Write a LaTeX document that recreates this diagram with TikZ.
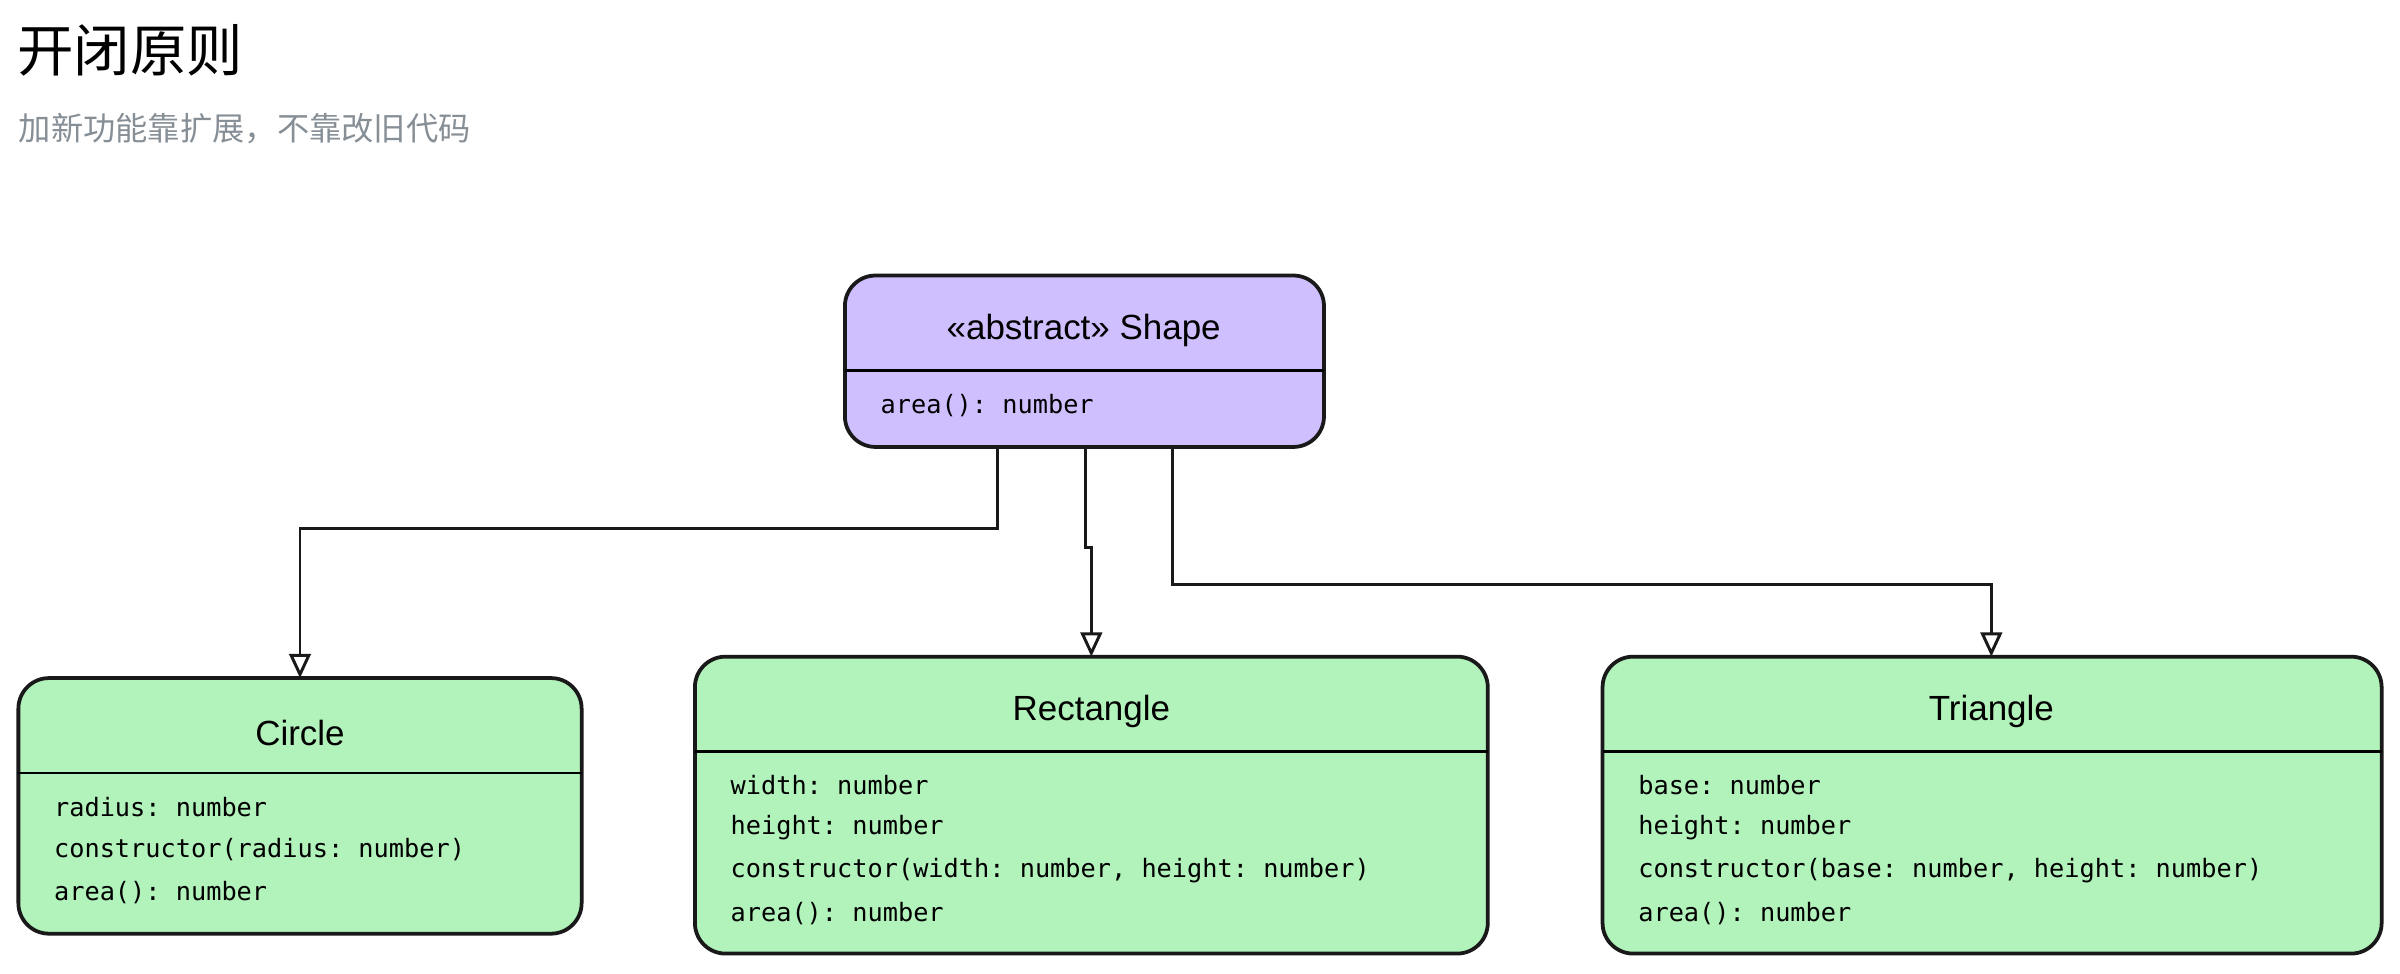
\documentclass[tikz,border=0pt]{standalone}
\usepackage{fontspec}
\setmainfont{Liberation Sans}
\setmonofont{DejaVu Sans Mono}
\newfontfamily\cjk{Noto Sans CJK SC}
\usetikzlibrary{arrows.meta,positioning}
\definecolor{purp}{HTML}{D0BFFF}
\definecolor{grn}{HTML}{B2F2BB}
\definecolor{sub}{HTML}{868E96}
\begin{document}
\begin{tikzpicture}[x=0.02cm,y=-0.02cm,
  box/.style={draw=black!90,line width=1.4pt,rounded corners=0.4cm,inner sep=0pt},
  ttl/.style={font=\fontsize{13}{15}\selectfont,anchor=center},
  mem/.style={font=\ttfamily\fontsize{9.4}{11}\selectfont,anchor=west,inner sep=0pt},
  conn/.style={line width=1.1pt,draw=black!90},
  arr/.style={conn,-{Triangle[open,width=8pt,length=9pt,line width=1.1pt]}}]
\useasboundingbox (0,0) rectangle (1568,636);
\node[anchor=west,font=\cjk\fontsize{21}{24}\selectfont,inner sep=0pt] (t) at (11,33) {开闭原则};
\node[anchor=west,font=\cjk\fontsize{12}{14}\selectfont,text=sub,inner sep=0pt] (s) at (12,84) {加新功能靠扩展，不靠改旧代码};
% Shape
\path[box,fill=purp] (552,180) rectangle (865,292);
\coordinate (shA) at (652,292); \coordinate (shB) at (709,292); \coordinate (shC) at (766,292);
\draw[line width=1pt] (552,242) -- (865,242);
\node[ttl] (shT) at (708,216) {«abstract» Shape};
\node[mem] (shM) at (575,265) {area(): number};
% Circle
\path[box,fill=grn] (12,443) rectangle (380,610);
\coordinate (ciT) at (196,443);
\draw[line width=1pt] (12,505) -- (380,505);
\node[ttl] (ciN) at (196,479) {Circle};
\node[mem] (c1) at (35,527) {radius: number};
\node[mem] (c2) at (35,555) {constructor(radius: number)};
\node[mem] (c3) at (35,583) {area(): number};
% Rectangle
\path[box,fill=grn] (454,429) rectangle (972,623);
\coordinate (reT) at (713,429);
\draw[line width=1pt] (454,491) -- (972,491);
\node[ttl] (reN) at (713,465) {Rectangle};
\node[mem] (r1) at (477,513) {width: number};
\node[mem] (r2) at (477,541) {height: number};
\node[mem] (r3) at (477,569) {constructor(width: number, height: number)};
\node[mem] (r4) at (477,597) {area(): number};
% Triangle
\path[box,fill=grn] (1047,429) rectangle (1556,623);
\coordinate (trT) at (1301,429);
\draw[line width=1pt] (1047,491) -- (1556,491);
\node[ttl] (trN) at (1301,465) {Triangle};
\node[mem] (t1) at (1070,513) {base: number};
\node[mem] (t2) at (1070,541) {height: number};
\node[mem] (t3) at (1070,569) {constructor(base: number, height: number)};
\node[mem] (t4) at (1070,597) {area(): number};
% connectors
\draw[arr] (shA) -- (652,345) -- (196,345) -- (ciT);
\draw[arr] (shB) -- (709,358) -- (713,358) -- (reT);
\draw[arr] (shC) -- (766,382) -- (1301,382) -- (trT);
\end{tikzpicture}
\end{document}
